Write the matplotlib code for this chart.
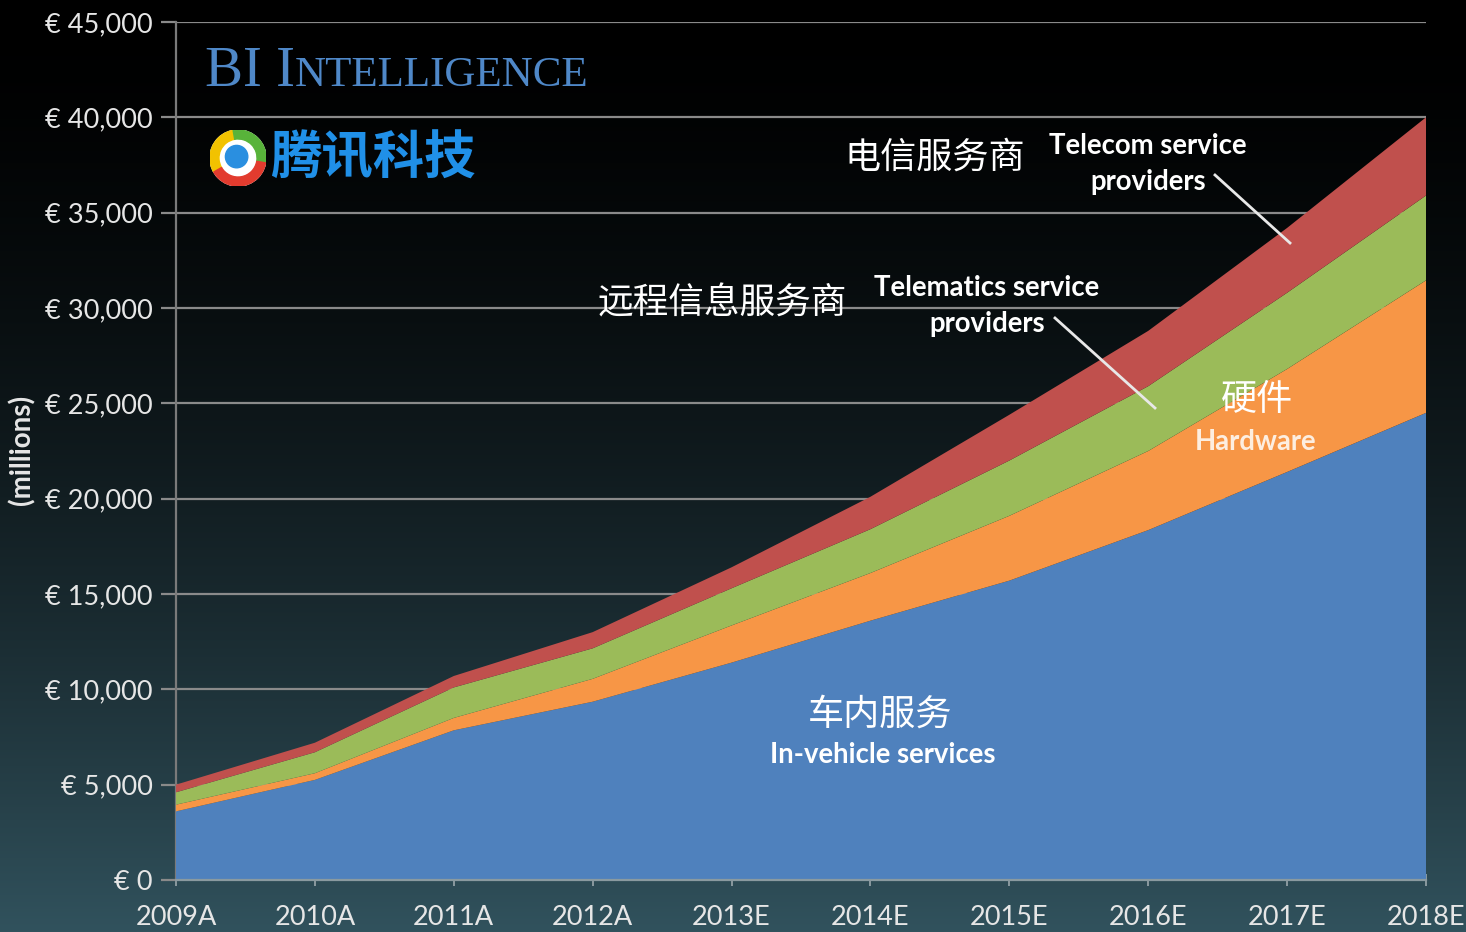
import numpy as np
import matplotlib
matplotlib.use('Agg')
import matplotlib.pyplot as plt
from matplotlib.offsetbox import TextArea, HPacker, AnnotationBbox
from matplotlib.patches import Wedge, Circle
from matplotlib.lines import Line2D

# data (EUR millions)
years = ['2009A', '2010A', '2011A', '2012A', '2013E', '2014E', '2015E', '2016E', '2017E', '2018E']
in_vehicle = [3600, 5250, 7850, 9350, 11400, 13600, 15700, 18350, 21400, 24500]
hardware = [350, 350, 650, 1200, 1950, 2500, 3400, 4150, 5400, 6950]
telematics = [650, 1100, 1600, 1600, 1950, 2300, 2900, 3400, 4000, 4450]
telecom = [400, 500, 600, 850, 1100, 1700, 2400, 2900, 3400, 4100]
yticks = list(range(0, 45001, 5000))

colors = ['#4f81bd', '#f79646', '#9bbb59', '#c0504d']
W, H = 1466, 932
lat = ['Lato', 'DejaVu Sans']
cjk = ['Noto Sans CJK SC', 'DejaVu Sans']


def px(x, y):
    # pixel position of the reference -> figure fraction
    return x / W, 1 - y / H


fig = plt.figure(figsize=(W / 100, H / 100), dpi=100)

# background gradient: black on top, dark teal at the bottom
bg = fig.add_axes([0, 0, 1, 1], zorder=-10)
t = np.linspace(0, 1, 400)[:, None] ** 1.6
top = np.array([0.0, 0.0, 0.0])
bot = np.array([0x31, 0x52, 0x5d]) / 255
grad = top + (bot - top) * t[..., None]
grad = np.repeat(grad, 2, axis=1)
bg.imshow(grad, aspect='auto', extent=[0, 1, 0, 1], origin='upper')
bg.axis('off')

l, b = px(176, 880)
r, tp = px(1426, 22)
ax = fig.add_axes([l, b, r - l, tp - b])
ax.set_facecolor('none')

x = np.arange(len(years))
ax.stackplot(x, in_vehicle, hardware, telematics, telecom, colors=colors,
             linewidth=0, zorder=3)

ax.set_xlim(0, len(years) - 1)
ax.set_ylim(0, 45000)
ax.set_yticks(yticks)
ax.set_yticklabels(['€ 0' if v == 0 else '€ {:,}'.format(v) for v in yticks])
ax.set_xticks(x)
ax.set_xticklabels(years)
ax.grid(axis='y', color='#8a8a8a', linewidth=1.6, zorder=0)
ax.set_axisbelow(True)
for s in ['top', 'right']:
    ax.spines[s].set_visible(False)
ax.spines['left'].set_color('#7a7a7a')
ax.spines['left'].set_linewidth(1.6)
ax.spines['bottom'].set_color('#8a9aa0')
ax.spines['bottom'].set_linewidth(1.6)
ax.spines['bottom'].set_zorder(4)
ax.tick_params(axis='y', length=11, width=1.6, color='#8a8a8a', pad=6,
               labelsize=19.5, labelcolor='#e6e6e6')
ax.tick_params(axis='x', length=8, width=1.4, color='#8a9aa0', direction='inout',
               pad=14, labelsize=19.5, labelcolor='#e6e6e6')
for lab in ax.get_xticklabels() + ax.get_yticklabels():
    lab.set_family(lat)

fig.text(*px(22, 450), '(millions)', rotation=90, ha='center', va='center',
         fontsize=20, fontweight='bold', color='#e6e6e6', family=lat)

# BI Intelligence heading in small caps
blue = '#4f88c8'
big = dict(family=['Liberation Serif'], size=41, color=blue)
small = dict(family=['Liberation Serif'], size=31, color=blue)
pack = HPacker(children=[TextArea('BI I', textprops=big),
                         TextArea('NTELLIGENCE', textprops=small)],
               align='baseline', pad=0, sep=0)
fig.add_artist(AnnotationBbox(pack, px(397, 72), xycoords='figure fraction',
                              frameon=False, box_alignment=(0.5, 0.5)))

# Tencent logo
lx0, ly0 = px(210, 186)
lx1, ly1 = px(266, 130)
lax = fig.add_axes([lx0, ly0, lx1 - lx0, ly1 - ly0])
lax.set_xlim(-1, 1)
lax.set_ylim(-1, 1)
lax.axis('off')
lax.add_patch(Circle((0, 0), 1, color='white'))
lax.add_patch(Wedge((0, 0), 1, 100, 210, width=0.32, color='#f2c200'))
lax.add_patch(Wedge((0, 0), 1, -10, 100, width=0.32, color='#58b33a'))
lax.add_patch(Wedge((0, 0), 1, 210, 350, width=0.32, color='#e23b2e'))
lax.add_patch(Circle((-0.05, 0.05), 0.4, color='#2a8fe0'))
fig.text(*px(270, 158), '腾讯科技', ha='left', va='center', fontsize=37,
         fontweight='bold', fontstyle='italic', color='#2090e8', family=cjk)

# series labels
fig.text(*px(935, 158), '电信服务商', ha='center', va='center', fontsize=26,
         color='white', family=cjk)
fig.text(*px(1148, 164), 'Telecom service\nproviders', ha='center', va='center',
         fontsize=19.8, fontweight='bold', color='white', family=lat,
         linespacing=1.45)
fig.text(*px(722, 303), '远程信息服务商', ha='center', va='center', fontsize=25.7,
         color='white', family=cjk)
fig.text(*px(987, 306), 'Telematics service\nproviders', ha='center', va='center',
         fontsize=19.8, fontweight='bold', color='white', family=lat,
         linespacing=1.45)
fig.text(*px(1257, 400), '硬件', ha='center', va='center', fontsize=26,
         color='white', family=cjk)
fig.text(*px(1256, 442), 'Hardware', ha='center', va='center', fontsize=19.8,
         fontweight='bold', color='#fdeee0', family=lat)
fig.text(*px(880, 715), '车内服务', ha='center', va='center', fontsize=26,
         color='white', family=cjk)
fig.text(*px(883, 755), 'In-vehicle services', ha='center', va='center',
         fontsize=19.8, fontweight='bold', color='white', family=lat)

for (x0, y0), (x1, y1) in [((1215, 175), (1290, 243)), ((1055, 318), (1155, 408))]:
    a, c = px(x0, y0)
    d, e = px(x1, y1)
    fig.add_artist(Line2D([a, d], [c, e], color='#e8e8e8', linewidth=2,
                          transform=fig.transFigure))

fig.savefig('out.png', dpi=100)
